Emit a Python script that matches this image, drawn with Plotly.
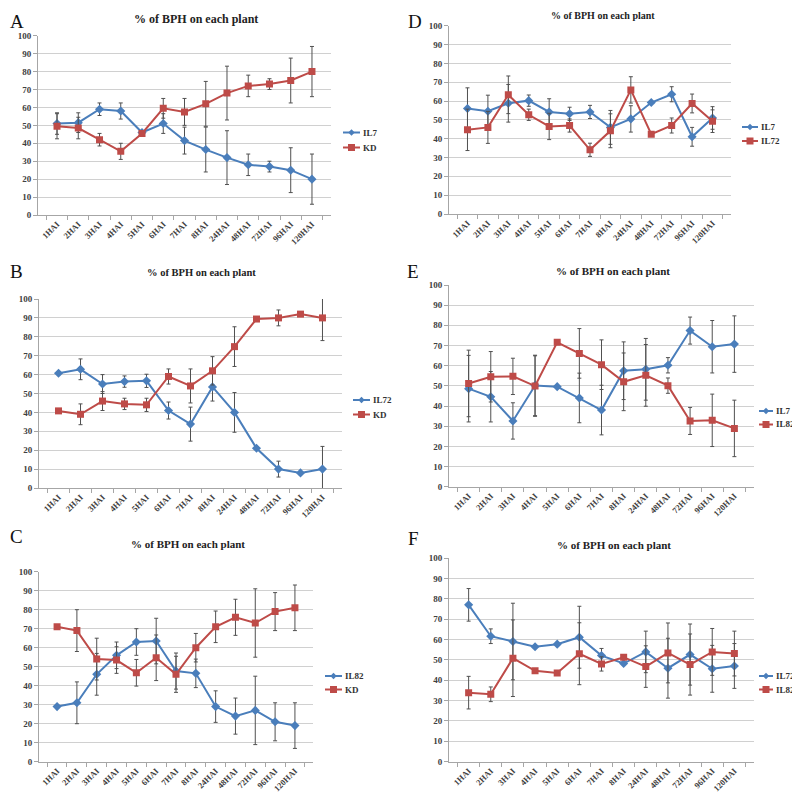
import plotly.graph_objects as go

categories = ["1HAI", "2HAI", "3HAI", "4HAI", "5HAI", "6HAI", "7HAI", "8HAI",
              "24HAI", "48HAI", "72HAI", "96HAI", "120HAI"]

# Panel A
a_il7 = [51, 51.5, 59, 58, 46, 51, 41.5, 36.5, 32, 28, 27, 25, 20]
a_il7_err = [6, 5.5, 3.5, 4.5, 0, 5.5, 7.5, 12.5, 15, 6, 3, 12.5, 14]
a_kd = [49.5, 48.5, 42, 35.5, 45.5, 59.5, 57.5, 62, 68, 72, 73, 75, 80]
a_kd_err = [7, 6, 3.5, 4.5, 0, 5.5, 7.5, 12.5, 15, 6, 3, 12.5, 14]

# Panel B
b_il72 = [60.7, 62.8, 55, 56.3, 56.7, 41, 33.8, 53.5, 40, 21, 10, 8, 10]
b_il72_err = [0, 5.5, 5, 3, 3.5, 4.5, 9, 7.5, 10.5, 0, 4.2, 0, 12]
b_kd = [40.8, 39, 46, 44.5, 44, 59, 54, 62, 74.8, 89.4, 90, 92, 90]
b_kd_err = [0, 5.5, 5, 3, 3.5, 4, 9, 7.5, 10.5, 0, 4.2, 0, 12]

# Panel C
c_il82 = [29, 31, 46, 56, 63, 63.5, 47.7, 46.5, 29, 24, 27, 21, 19]
c_il82_err = [0, 11, 11, 7, 7, 12, 9.5, 7.5, 8.3, 9.5, 18, 10, 12]
c_kd = [71, 69, 54, 53.5, 46.8, 54.7, 46, 60, 71, 76, 73, 79, 81]
c_kd_err = [0, 11, 11, 7, 7, 12, 9.5, 7.5, 8.3, 9.5, 18, 10, 12]

# Panel D
d_il7 = [56, 54.6, 58.8, 60.2, 54.2, 53.2, 54.2, 46, 50.5, 59.2, 63.6, 41, 51]
d_il7_err = [11, 8.5, 10, 3, 7, 3.5, 3.5, 9, 7, 0, 4, 5, 6]
d_il72 = [44.7, 46, 63.3, 52.7, 46.5, 47, 34.1, 44.2, 65.9, 42.4, 47, 58.7, 49.3]
d_il72_err = [11, 8.5, 10, 3, 7, 3.5, 3.5, 9, 7, 0, 4, 5, 6]

# Panel E
e_il7 = [48.6, 44.6, 32.6, 50.2, 49.6, 44, 38, 57.5, 58.2, 60.2, 77.4, 69.4, 70.7]
e_il7_err = [16.5, 12.5, 9, 15, 0, 12.3, 12.3, 14.3, 15.3, 3.8, 6.7, 13, 14]
e_il82 = [51.2, 54.5, 54.7, 49.9, 71.6, 66.1, 60.5, 52, 55.2, 50.1, 32.6, 32.9, 28.9]
e_il82_err = [16.5, 12.5, 9, 15, 0, 12.3, 12.3, 14.3, 15.3, 3.8, 6.7, 13, 14]

# Panel F
f_il72 = [77, 61.6, 59, 56.4, 57.7, 61.1, 52.1, 48.2, 53.9, 45.9, 52.6, 45.6, 47]
f_il72_err = [8, 3.6, 18.8, 0, 0, 15.2, 3.5, 0, 10.2, 14.7, 15, 11.5, 11]
f_il82 = [33.9, 33.1, 50.8, 44.6, 43.6, 53, 48, 51.3, 46.7, 53.4, 47.7, 53.9, 53.1]
f_il82_err = [8, 3.6, 18.8, 0, 0, 15.2, 3.5, 0, 10.2, 14.7, 15, 11.5, 11]

title_text = "% of BPH on each plant"
BLUE = "#4a7ebb"
RED = "#be4b48"
SERIF = "Liberation Serif"
W, H = 800, 792
OFF = 8  # page body margin compensation

panels = [
    dict(letter="A", box=(38, 331, 35.7, 215), s1=("IL7", a_il7, a_il7_err), s2=("KD", a_kd, a_kd_err),
         leg=(343, 17, 132.5, 147.5), title=(196, 19, 12), lpos=(8, 21)),
    dict(letter="D", box=(449, 731, 25.7, 214), s1=("IL7", d_il7, d_il7_err), s2=("IL72", d_il72, d_il72_err),
         leg=(742, 16, 127, 141), title=(602.5, 16, 10), lpos=(406, 21)),
    dict(letter="B", box=(39, 342, 299, 488), s1=("IL72", b_il72, b_il72_err), s2=("KD", b_kd, b_kd_err),
         leg=(353, 17, 400, 414.5), title=(201, 273, 10.5), lpos=(8, 271.5)),
    dict(letter="E", box=(449, 754, 285, 486.7), s1=("IL7", e_il7, e_il7_err), s2=("IL82", e_il82, e_il82_err),
         leg=(759, 14, 411, 424.5), title=(613, 271, 11), lpos=(405, 271.5)),
    dict(letter="C", box=(39, 313, 571.7, 761.7), s1=("IL82", c_il82, c_il82_err), s2=("KD", c_kd, c_kd_err),
         leg=(325, 17, 676, 689.5), title=(188, 544, 11), lpos=(8, 536.5)),
    dict(letter="F", box=(449, 754, 558, 761.7), s1=("IL72", f_il72, f_il72_err), s2=("IL82", f_il82, f_il82_err),
         leg=(759, 14, 676, 689.5), title=(614, 545, 11), lpos=(406, 538.5)),
]

fig = go.Figure()
annotations = []
shapes = []
layout = dict(
    width=W, height=H, margin=dict(l=0, r=0, t=0, b=0, autoexpand=False),
    paper_bgcolor="white", plot_bgcolor="white",
    font=dict(family=SERIF, color="#333333"),
    showlegend=False,
)


def px(x):
    return (x - OFF) / W


def py(y):
    return 1 - (y - OFF) / H


for i, p in enumerate(panels):
    n = "" if i == 0 else str(i + 1)
    xa, ya = "x" + n, "y" + n
    x0, x1, yt, yb = p["box"]
    lx, llen, ly1, ly2 = p["leg"]
    for (name, vals, errs), color, sym, msize, ly in [
        (p["s1"], BLUE, "diamond", 7, ly1), (p["s2"], RED, "square", 7, ly2)
    ]:
        fig.add_trace(go.Scatter(
            x=categories, y=vals, name=name, mode="lines+markers",
            line=dict(color=color, width=2),
            marker=dict(symbol=sym, size=msize, color=color),
            error_y=dict(type="data", array=errs, visible=True, color="#505050", thickness=1, width=2),
            xaxis=xa, yaxis=ya, showlegend=False,
        ))
        # legend entry: short line, marker, label
        shapes.append(dict(type="line", xref="paper", yref="paper",
                           x0=px(lx), x1=px(lx + llen), y0=py(ly), y1=py(ly),
                           line=dict(color=color, width=2)))
        cx = lx + llen / 2
        if sym == "square":
            shapes.append(dict(type="rect", xref="paper", yref="paper",
                               x0=px(cx - 3.5), x1=px(cx + 3.5), y0=py(ly + 3.5), y1=py(ly - 3.5),
                               fillcolor=color, line=dict(width=0)))
        else:
            path = "M {a},{b} L {c},{d} L {e},{f} L {g},{h} Z".format(
                a=px(cx - 3.2), b=py(ly), c=px(cx), d=py(ly - 3.2),
                e=px(cx + 3.2), f=py(ly), g=px(cx), h=py(ly + 3.2))
            shapes.append(dict(type="path", xref="paper", yref="paper", path=path,
                               fillcolor=color, line=dict(width=0)))
        annotations.append(dict(
            text=name, x=px(lx + llen + 1), y=py(ly), xref="paper", yref="paper",
            xanchor="left", yanchor="middle", showarrow=False,
            font=dict(family=SERIF, size=9, color="#333333", weight="bold"),
        ))

    layout["xaxis" + n] = dict(
        domain=[px(x0), px(x1)], anchor=ya, type="category", automargin=False,
        showgrid=False, showline=True, linecolor="#a6a6a6", linewidth=1,
        ticks="outside", tickson="boundaries", ticklen=4, tickcolor="#a6a6a6",
        tickangle=-45, tickfont=dict(family=SERIF, size=8.5, color="#404040", weight="bold"),
        fixedrange=True,
    )
    layout["yaxis" + n] = dict(
        domain=[py(yb), py(yt)], anchor=xa, range=[0, 100], dtick=10, automargin=False,
        showgrid=True, gridcolor="#d0d0d0", gridwidth=1,
        showline=True, linecolor="#a6a6a6", linewidth=1, zeroline=False,
        ticks="outside", ticklen=4, tickcolor="#a6a6a6",
        tickfont=dict(family=SERIF, size=9, color="#404040", weight="bold"),
        fixedrange=True,
    )
    tx, ty, tsize = p["title"]
    annotations.append(dict(
        text=title_text, x=px(tx), y=py(ty), xref="paper", yref="paper",
        xanchor="center", yanchor="middle", showarrow=False,
        font=dict(family=SERIF, size=tsize, color="#222222", weight="bold"),
    ))
    lpx, lpy = p["lpos"]
    annotations.append(dict(
        text=p["letter"], x=px(lpx), y=py(lpy), xref="paper", yref="paper",
        xanchor="left", yanchor="middle", showarrow=False,
        font=dict(family=SERIF, size=19, color="#111111"),
    ))

layout["annotations"] = annotations
layout["shapes"] = shapes
fig.update_layout(**layout)
fig.write_html("out.html")
